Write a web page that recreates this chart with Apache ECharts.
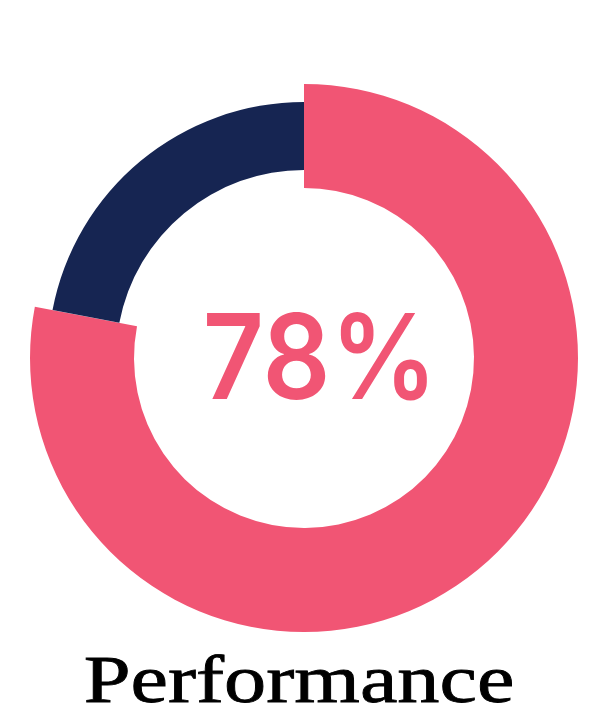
<!DOCTYPE html>
<html>
<head>
<meta charset="utf-8">
<script src="https://cdn.jsdelivr.net/npm/echarts@6/dist/echarts.min.js"></script>
<style>
html,body{margin:0;padding:0;background:#ffffff;}
#chart{width:604px;height:713px;}
</style>
</head>
<body>
<div id="chart"></div>
<script>
const categories = ['Performance', 'Remaining'];
const values = [78, 22];
const centerLabel = values[0] + '%';
const titleText = 'Performance';

const PINK = '#F15574';
const NAVY = '#162552';

const chart = echarts.init(document.getElementById('chart'), null, {renderer: 'canvas'});

function buildData(showIndex, color) {
  return values.map((v, i) => ({
    value: v,
    name: categories[i],
    itemStyle: {color: i === showIndex ? color : 'rgba(0,0,0,0)'}
  }));
}

chart.setOption({
  backgroundColor: '#ffffff',
  animation: false,
  series: [
    {
      type: 'pie',
      center: [304, 358],
      radius: [170, 274],
      startAngle: 90,
      clockwise: true,
      silent: true,
      label: {show: false},
      labelLine: {show: false},
      data: buildData(0, PINK)
    },
    {
      type: 'pie',
      center: [304, 358],
      radius: [188, 256],
      startAngle: 90,
      clockwise: true,
      silent: true,
      label: {show: false},
      labelLine: {show: false},
      data: buildData(1, NAVY)
    }
  ],
  graphic: [
    {
      type: 'text',
      x: 320,
      y: 364,
      scaleX: 0.9,
      style: {
        text: centerLabel,
        fontFamily: 'Inter',
        fontWeight: 600,
        fontSize: 118,
        fill: PINK,
        textAlign: 'center',
        textVerticalAlign: 'middle'
      }
    },
    {
      type: 'text',
      x: 299,
      y: 684,
      scaleX: 1.24,
      style: {
        text: titleText,
        fontFamily: '"Liberation Serif"',
        fontWeight: 'normal',
        fontSize: 68,
        fill: '#000000',
        stroke: '#000000',
        lineWidth: 0.8,
        textAlign: 'center',
        textVerticalAlign: 'middle'
      }
    }
  ]
});
</script>
</body>
</html>
